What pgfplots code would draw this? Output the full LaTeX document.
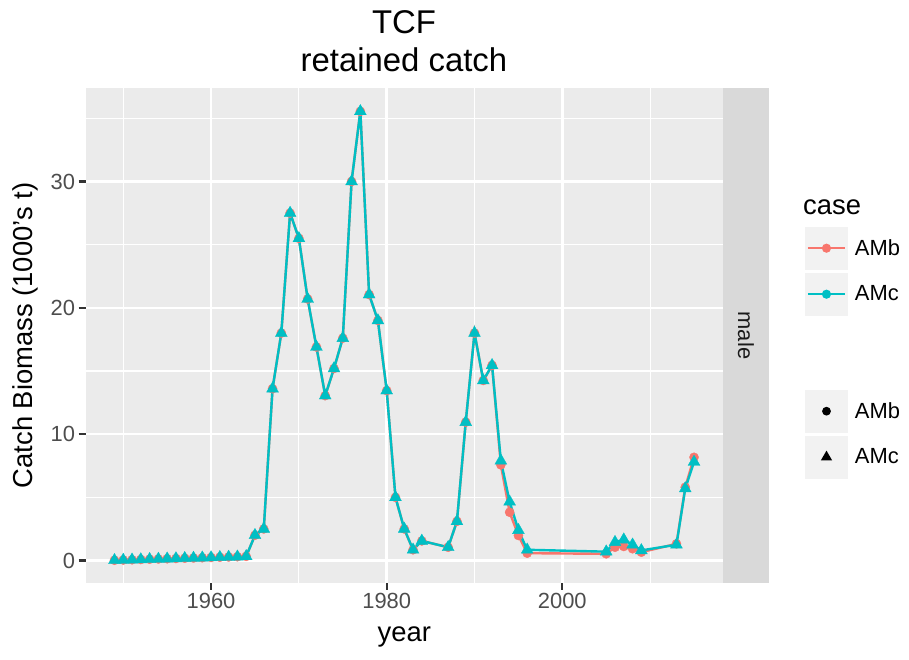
\documentclass[border=0pt]{standalone}
\usepackage{fontspec}
\setmainfont{Liberation Sans}
\usepackage{pgfplots}
\pgfplotsset{compat=1.18}
\usepackage{pgfplotstable}
\definecolor{ambcol}{HTML}{F8766D}
\definecolor{amccol}{HTML}{00BFC4}
\definecolor{panelbg}{HTML}{EBEBEB}
\definecolor{stripbg}{HTML}{D9D9D9}
\definecolor{keybg}{HTML}{F2F2F2}
\definecolor{tickcol}{HTML}{333333}
\definecolor{ticklab}{HTML}{4D4D4D}
\definecolor{striptext}{HTML}{1A1A1A}

\pgfplotstableread{
year val
1949 0.02
1950 0.04
1951 0.06
1952 0.08
1953 0.10
1954 0.12
1955 0.14
1956 0.16
1957 0.18
1958 0.20
1959 0.22
1960 0.24
1961 0.26
1962 0.28
1963 0.30
1964 0.33
1965 2.0
1966 2.5
1967 13.6
1968 18.0
1969 27.5
1970 25.5
1971 20.7
1972 16.9
1973 13.05
1974 15.2
1975 17.6
1976 30.0
1977 35.55
1978 21.05
1979 19.0
1980 13.45
1981 5.0
1982 2.5
1983 0.85
1984 1.55
1987 1.05
1988 3.1
1989 10.95
1990 18.0
1991 14.25
1992 15.45
1993 7.57
1994 3.82
1995 1.98
1996 0.58
2005 0.53
2006 1.05
2007 1.11
2008 0.93
2009 0.66
2013 1.32
2014 5.8
2015 8.17
}\amb

\pgfplotstableread{
year val
1949 0.02
1950 0.04
1951 0.06
1952 0.08
1953 0.10
1954 0.12
1955 0.14
1956 0.16
1957 0.18
1958 0.20
1959 0.22
1960 0.24
1961 0.26
1962 0.28
1963 0.30
1964 0.33
1965 2.0
1966 2.5
1967 13.6
1968 18.0
1969 27.5
1970 25.5
1971 20.7
1972 16.9
1973 13.05
1974 15.2
1975 17.6
1976 30.0
1977 35.55
1978 21.05
1979 19.0
1980 13.45
1981 5.0
1982 2.5
1983 0.85
1984 1.55
1987 1.05
1988 3.1
1989 10.95
1990 18.0
1991 14.25
1992 15.45
1993 7.9
1994 4.65
1995 2.4
1996 0.85
2005 0.7
2006 1.45
2007 1.65
2008 1.25
2009 0.8
2013 1.25
2014 5.7
2015 7.8
}\amc

\begin{document}
\begin{tikzpicture}
\useasboundingbox (0,0) rectangle (909bp,660bp);
\begin{axis}[
  at={(85.5bp,77bp)}, anchor=south west,
  scale only axis, width=637.5bp, height=495bp,
  xmin=1945.7, xmax=2018.3, ymin=-1.78, ymax=37.4,
  xtick={1960,1980,2000}, minor xtick={1950,1970,1990,2010},
  ytick={0,10,20,30}, minor ytick={5,15,25,35},
  xtick pos=bottom, ytick pos=left,
  tick align=outside,
  major tick length=6.9bp, minor tick length=0bp,
  tick style={color=tickcol, line width=2.2bp},
  grid=both,
  major grid style={draw=white, line width=2.4bp},
  minor grid style={draw=white, line width=1.2bp},
  axis line style={draw=none},
  axis background/.style={fill=panelbg},
  /pgf/number format/1000 sep={},
  /pgf/number format/assume math mode=true,
  ticklabel style={font=\fontsize{22}{26}\selectfont, text=ticklab},
  xlabel={year},
  ylabel={Catch Biomass (1000's t)},
  label style={font=\fontsize{27.5}{32}\selectfont, text=black},
  xlabel style={at={(axis description cs:0.5,-0.1186)}, anchor=base},
  ylabel style={at={(axis description cs:-0.0839,0.5)}, anchor=base, rotate=0},
  legend style={at={(axis description cs:1.1286,0.7198)}, anchor=north west,
    draw=none, fill=none, inner sep=0pt, outer sep=0pt,
    row sep=3bp, column sep=0pt,
    font=\fontsize{22}{26}\selectfont,
    nodes={inner xsep=7bp, inner ysep=2bp}},
  legend cell align=left,
]
\addplot[forget plot, ambcol, line width=2.4bp, mark=none] table[x=year,y=val] {\amb};
\addplot[forget plot, amccol, line width=2.4bp, mark=none] table[x=year,y=val] {\amc};
\addplot[forget plot, only marks, mark=*, mark size=4.6bp, mark options={fill=ambcol, draw=ambcol, line width=0.3bp}] table[x=year,y=val] {\amb};
\addplot[forget plot, only marks, mark=triangle*, mark size=6.9bp, mark options={fill=amccol, draw=amccol, line width=0.3bp}] table[x=year,y=val] {\amc};

\addlegendimage{legend image code/.code={
  \fill[keybg, draw=none] (0bp,-21.5bp) rectangle (43bp,21.5bp);
  \draw[ambcol, line width=2.4bp] (3bp,0bp) -- (40bp,0bp);
  \fill[ambcol, draw=none] (21.5bp,0bp) circle (4.6bp);}}
\addlegendentry{AMb}
\addlegendimage{legend image code/.code={
  \fill[keybg, draw=none] (0bp,-21.5bp) rectangle (43bp,21.5bp);
  \draw[amccol, line width=2.4bp] (3bp,0bp) -- (40bp,0bp);
  \fill[amccol, draw=none] (21.5bp,0bp) circle (4.6bp);}}
\addlegendentry{AMc}
\addlegendimage{legend image code/.code={
  \path[draw=none, fill=none] (0bp,-34bp) rectangle (43bp,34bp);}}
\addlegendentry{}
\addlegendimage{legend image code/.code={
  \fill[keybg, draw=none] (0bp,-21.5bp) rectangle (43bp,21.5bp);
  \fill[black, draw=none] (21.5bp,0bp) circle (4.4bp);}}
\addlegendentry{AMb}
\addlegendimage{legend image code/.code={
  \fill[keybg, draw=none] (0bp,-21.5bp) rectangle (43bp,21.5bp);
  \fill[black, draw=none] (21.5bp,6.6bp) -- (27.2bp,-3.3bp) -- (15.8bp,-3.3bp) -- cycle;}}
\addlegendentry{AMc}
\end{axis}
\fill[stripbg] (723bp,77bp) rectangle (769bp,572bp);
\node[rotate=-90, text=striptext, font=\fontsize{22}{26}\selectfont, inner sep=0pt] at (746bp,324.5bp) {male};
\node[anchor=base, font=\fontsize{33}{38}\selectfont, inner sep=0pt] at (404bp,626.7bp) {TCF};
\node[anchor=base, font=\fontsize{33}{38}\selectfont, inner sep=0pt] at (404bp,588bp) {retained catch};
\node[anchor=base west, font=\fontsize{27.5}{32}\selectfont, inner sep=0pt] at (803bp,445bp) {case};
\end{tikzpicture}
\end{document}
